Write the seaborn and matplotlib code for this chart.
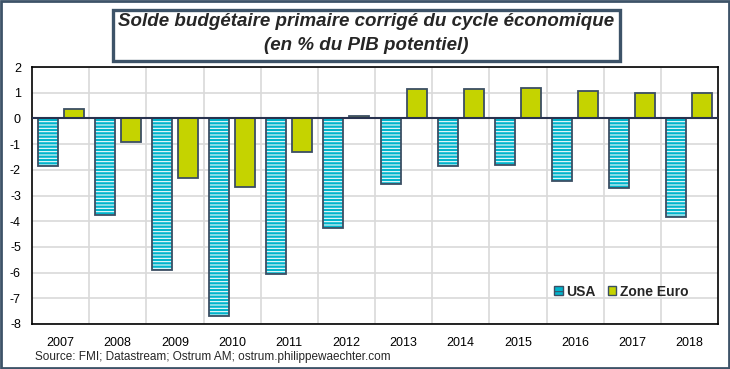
import numpy as np
import pandas as pd
import matplotlib
matplotlib.use("Agg")
import matplotlib.pyplot as plt
import seaborn as sns
from matplotlib.patches import Rectangle, Patch

years = ['2007', '2008', '2009', '2010', '2011', '2012',
         '2013', '2014', '2015', '2016', '2017', '2018']
usa = [-1.87, -3.77, -5.9, -7.7, -6.05, -4.28, -2.57, -1.87, -1.8, -2.42, -2.7, -3.82]
zone_euro = [0.35, -0.9, -2.3, -2.68, -1.32, 0.08, 1.13, 1.13, 1.17, 1.08, 0.97, 1.0]
series = ['USA', 'Zone Euro']

cyan = '#00b4cc'
olive = '#c5d300'
edge = '#3b4e63'

df = pd.DataFrame({'year': years * 2,
                   'serie': ['USA'] * len(years) + ['Zone Euro'] * len(years),
                   'value': usa + zone_euro})

sns.set_style('white')
plt.rcParams['font.family'] = ['Liberation Sans', 'DejaVu Sans']
plt.rcParams['axes.unicode_minus'] = False
plt.rcParams['hatch.linewidth'] = 0.75

fig = plt.figure(figsize=(7.3, 3.69), dpi=100)
ax = fig.add_axes([32 / 730, 1 - 324 / 369, 686 / 730, 257 / 369])

# fill layer: cyan with white stripes for USA, plain olive for euro
sns.barplot(data=df, x='year', y='value', hue='serie', order=years,
            hue_order=series, palette=[cyan, olive], saturation=1,
            width=0.91, gap=0.23, linewidth=0, legend=False, ax=ax)
n = len(years)
for p in ax.patches[:n]:
    p.set_hatch('-----')
    p.set_edgecolor('white')
    p.set_linewidth(0)
# outline layer
sns.barplot(data=df, x='year', y='value', hue='serie', order=years,
            hue_order=series, width=0.91, gap=0.23, fill=False, saturation=1,
            palette=[edge, edge], linewidth=1.3, legend=False, ax=ax)

ax.set_ylim(-8, 2)
ax.set_xlim(-0.5, len(years) - 0.5)
ax.set_yticks(range(-8, 3))
ax.set_xticks(range(len(years)))
ax.set_xticks(np.arange(0.5, len(years) - 0.5, 1), minor=True)
ax.grid(axis='y', which='major', color='#d9d9d9', linewidth=1.2)
ax.grid(axis='x', which='minor', color='#d9d9d9', linewidth=1.2)
ax.grid(axis='x', which='major', visible=False)
ax.set_axisbelow(True)
ax.axhline(0, color='#28324f', linewidth=1.5, zorder=5)
ax.tick_params(axis='both', which='both', length=0, labelsize=9, colors='black')
ax.tick_params(axis='x', pad=9)
ax.tick_params(axis='y', pad=8)
ax.set_xlabel('')
ax.set_ylabel('')
for s in ax.spines.values():
    s.set_color('black')
    s.set_linewidth(1.2)

handles = [Patch(facecolor=cyan, edgecolor=edge, hatch='---', linewidth=1),
           Patch(facecolor=olive, edgecolor=edge, linewidth=1)]
ax.legend(handles, series, loc='lower right', bbox_to_anchor=(0.975, 0.05),
          ncol=2, frameon=False, handlelength=0.6, handleheight=0.6,
          handletextpad=0.25, columnspacing=0.9,
          prop={'weight': 'bold', 'size': 10})

# title box
fig.patches.append(Rectangle((113 / 730, 1 - 61 / 369), 507 / 730, 51 / 369,
                             transform=fig.transFigure, fill=False,
                             edgecolor='#3d5368', linewidth=2.4))
fig.text(366 / 730, 1 - 21 / 369, 'Solde budgétaire primaire corrigé du cycle économique',
         ha='center', va='center', fontsize=13.5, fontweight='bold', fontstyle='italic')
fig.text(366 / 730, 1 - 45 / 369, '(en % du PIB potentiel)',
         ha='center', va='center', fontsize=13.5, fontweight='bold', fontstyle='italic')

fig.text(35 / 730, 1 - 357 / 369,
         'Source: FMI; Datastream; Ostrum AM; ostrum.philippewaechter.com',
         ha='left', va='center', fontsize=8.5)

# outer frame
fig.patches.append(Rectangle((0.001, 0.002), 0.997, 0.995, transform=fig.transFigure,
                             fill=False, edgecolor='#3d5368', linewidth=2))

fig.savefig('out.png', dpi=100)
